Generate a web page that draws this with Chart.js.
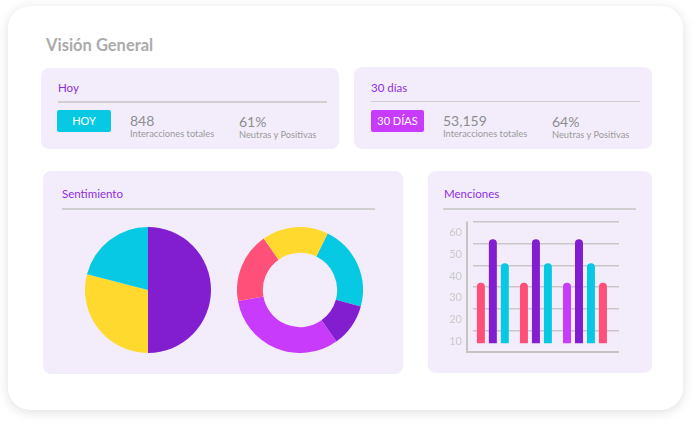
<!DOCTYPE html>
<html><head><meta charset="utf-8">
<script src="https://cdn.jsdelivr.net/npm/chart.js@4"></script>
<style>
html,body{margin:0;padding:0;background:#fff;width:692px;height:422px;overflow:hidden;font-family:Lato,"Open Sans",sans-serif;}
.card{position:absolute;left:8px;top:6px;width:675px;height:404px;border-radius:22px;background:#fff;box-shadow:0 2px 12px rgba(0,0,0,0.13);}
.panel{position:absolute;background:#f3edfb;border-radius:8px;}
.t{position:absolute;white-space:nowrap;line-height:1;}
.h{color:#8e2de2;font-size:11.5px;}
.div{position:absolute;height:1.5px;background:#cfcfcf;}
.badge{position:absolute;height:22px;border-radius:2px;color:#fff;font-size:11px;line-height:22px;text-align:center;}
.num{color:#8d8d8d;font-size:14px;}
.lbl{color:#9a9a9a;font-size:9px;}
canvas{position:absolute;}
</style>
</head><body>
<div class="card"></div>
<div class="t" style="left:46px;top:37px;font-size:16.5px;font-weight:700;color:#ababab;">Visión General</div>

<div class="panel" style="left:41px;top:68px;width:298px;height:81px;"></div>
<div class="t h" style="left:58px;top:82px;">Hoy</div>
<div class="div" style="left:58px;top:101px;width:269px;"></div>
<div class="badge" style="left:57px;top:110px;width:54px;background:#08c9e3;">HOY</div>
<div class="t num" style="left:130px;top:114px;">848</div>
<div class="t lbl" style="left:130px;top:129px;font-size:9.3px;">Interacciones totales</div>
<div class="t num" style="left:239px;top:115px;">61%</div>
<div class="t lbl" style="left:239px;top:130px;font-size:9.3px;">Neutras y Positivas</div>

<div class="panel" style="left:354px;top:67px;width:298px;height:82px;"></div>
<div class="t h" style="left:371px;top:82px;">30 días</div>
<div class="div" style="left:371px;top:100.5px;width:269px;"></div>
<div class="badge" style="left:371px;top:110px;width:53px;background:#c93bfb;">30 DÍAS</div>
<div class="t num" style="left:443px;top:114px;">53,159</div>
<div class="t lbl" style="left:443px;top:129px;font-size:9.3px;">Interacciones totales</div>
<div class="t num" style="left:552px;top:115px;">64%</div>
<div class="t lbl" style="left:552px;top:130px;font-size:9.3px;">Neutras y Positivas</div>

<div class="panel" style="left:43px;top:171px;width:360px;height:203px;"></div>
<div class="t h" style="left:62px;top:188px;">Sentimiento</div>
<div class="div" style="left:62px;top:208px;width:313px;"></div>

<div class="panel" style="left:428px;top:171px;width:224px;height:202px;"></div>
<div class="t h" style="left:444px;top:188px;">Menciones</div>
<div class="div" style="left:443px;top:208px;width:193px;"></div>

<canvas id="pie" width="126" height="126" style="left:85px;top:227px;"></canvas>
<canvas id="donut" width="126" height="126" style="left:237px;top:227px;"></canvas>
<canvas id="bar" width="200" height="150" style="left:430px;top:212px;"></canvas>

<script>
// Colours
const PURPLE = '#821ecf', YELLOW = '#ffd92e', CYAN = '#08c9e3', PINK = '#ff5079', MAGENTA = '#c93bfb';

// Pie (Sentimiento, left)
const pieLabels = ['Positivo', 'Neutro', 'Negativo'];
const pieValues = [50, 29, 21];
const pieColors = [PURPLE, YELLOW, CYAN];

// Doughnut (Sentimiento, right)
const donutLabels = ['A', 'B', 'C', 'D', 'E'];
const donutValues = [22, 11, 32, 18, 17];
const donutColors = [CYAN, PURPLE, MAGENTA, PINK, YELLOW];

// Menciones bars
const groupPositions = [1, 2, 3];
const mentionsA = [37, 37, 37];
const mentionsAColors = [PINK, PINK, MAGENTA];
const mentionsB = [57, 57, 57];
const mentionsC = [46, 46, 46];
const mentionsD = [null, null, 37];
const barBase = 9;
const yTickLabels = [10, 20, 30, 40, 50, 60];

Chart.defaults.font.family = 'Lato';
const common = { responsive: false, animation: false, plugins: { legend: { display: false }, tooltip: { enabled: false } } };

new Chart(document.getElementById('pie'), {
  type: 'pie',
  data: { labels: pieLabels, datasets: [{ data: pieValues, backgroundColor: pieColors, borderWidth: 0 }] },
  options: Object.assign({}, common, { rotation: 0, layout: { padding: 0 } })
});

new Chart(document.getElementById('donut'), {
  type: 'doughnut',
  data: { labels: donutLabels, datasets: [{ data: donutValues, backgroundColor: donutColors, borderWidth: 0 }] },
  options: Object.assign({}, common, { rotation: 26, cutout: '59%', layout: { padding: 0 } })
});

const pts = arr => groupPositions.map((x, i) => ({ x: x, y: arr[i] }));
const barDs = (arr, color) => ({
  data: pts(arr), backgroundColor: color, base: barBase,
  borderRadius: 4, borderSkipped: 'start', barPercentage: 0.667, categoryPercentage: 1.112
});

const axisLines = {
  id: 'axisLines',
  beforeDatasetsDraw(chart) {
    const { ctx, chartArea: a } = chart;
    ctx.save();
    ctx.strokeStyle = '#c4c4c4';
    ctx.lineWidth = 2;
    ctx.beginPath();
    ctx.moveTo(a.left - 6, a.top - 0.5);
    ctx.lineTo(a.left - 6, a.bottom);
    ctx.lineTo(a.right, a.bottom);
    ctx.stroke();
    ctx.restore();
  }
};

new Chart(document.getElementById('bar'), {
  type: 'bar',
  data: {
    datasets: [
      barDs(mentionsA, mentionsAColors),
      barDs(mentionsB, PURPLE),
      barDs(mentionsC, CYAN),
      barDs(mentionsD, PINK)
    ]
  },
  options: Object.assign({}, common, {
    layout: { padding: { left: 0, right: 11, top: 10, bottom: 10 } },
    scales: {
      x: { type: 'linear', offset: false, display: false, min: 0.4, max: 3.79,
           ticks: { stepSize: 1, includeBounds: false }, grid: { display: false } },
      y: { min: 5, max: 65,
           ticks: { stepSize: 5, autoSkip: false, padding: 0, color: '#c9c9c9', font: { size: 11 },
                    callback: v => yTickLabels.includes(v) ? String(v) : '' },
           grid: { drawTicks: true, tickLength: 11, tickColor: 'transparent', lineWidth: 1.5,
                   color: c => (c.tick && c.tick.value % 10 === 5 && c.tick.value > 5) ? '#c8c8c8' : 'transparent' },
           border: { display: false },
           afterFit: s => { s.width = 43; } }
    }
  }),
  plugins: [axisLines]
});
</script>
</body></html>
